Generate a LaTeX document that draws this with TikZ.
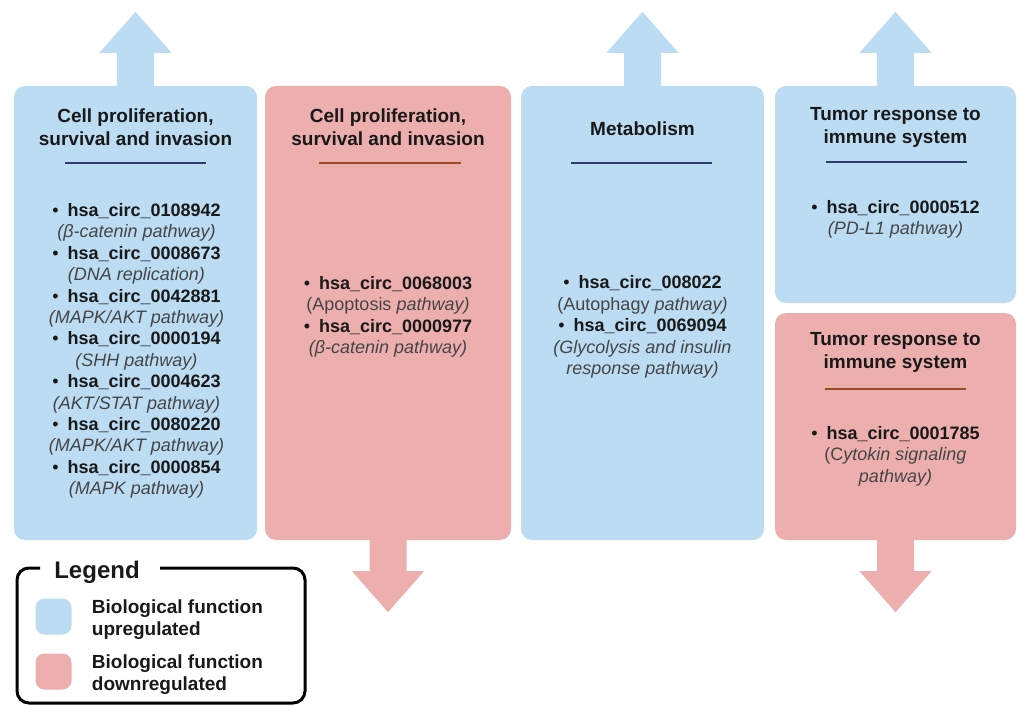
\documentclass[tikz,border=0pt]{standalone}
\usepackage{fontspec}
\setmainfont{Liberation Sans}
\usetikzlibrary{positioning}

\definecolor{upfill}{HTML}{BBDCF3}
\definecolor{downfill}{HTML}{EDAEAE}
\definecolor{uprule}{HTML}{2F3B6A}
\definecolor{downrule}{HTML}{9A4B24}
\definecolor{pathgray}{HTML}{454545}

\newcommand{\circitem}[1]{\textbullet\hspace{9pt}\textbf{#1}}
\newcommand{\pathw}[1]{{\color{pathgray}\itshape #1}}
\newcommand{\pathu}[1]{{\color{pathgray}#1}}

\begin{document}
\begin{tikzpicture}[x=1pt, y=-1pt,
  panel/.style={rounded corners=11pt, minimum width=243pt, inner sep=0pt},
  uppanel/.style={panel, fill=upfill},
  downpanel/.style={panel, fill=downfill},
  title/.style={font=\fontsize{19}{23}\selectfont\bfseries, align=center, text=black!90},
  items/.style={font=\fontsize{18}{21.4}\selectfont, align=center, text=black!90},
  uprule/.style={draw=uprule, line width=2pt},
  downrule/.style={draw=downrule, line width=2pt},
  swatch/.style={minimum size=36pt, inner sep=0pt, rounded corners=9pt},
  legtext/.style={font=\fontsize{19}{22}\selectfont\bfseries, align=left, inner sep=0pt, text=black!90},
  uparr/.pic={\fill[upfill] (-18.5,2) -- (-18.5,-33) -- (-36,-33) -- (0,-74)
    -- (36,-33) -- (18.5,-33) -- (18.5,2) -- cycle;},
  downarr/.pic={\fill[downfill] (-18.5,-2) -- (-18.5,31) -- (-36,31) -- (0,72)
    -- (36,31) -- (18.5,31) -- (18.5,-2) -- cycle;}
]
\useasboundingbox (0,0) rectangle (1017,706);

% panels
\node[uppanel, minimum height=454pt] (p1) at (135.5,313) {};
\node[downpanel, minimum width=246pt, minimum height=454pt] (p2) at (388,313) {};
\node[uppanel, minimum height=454pt] (p3) at (642.5,313) {};
\node[uppanel, minimum width=241pt, minimum height=217pt] (p4) at (895.5,194.5) {};
\node[downpanel, minimum width=241pt, minimum height=227pt] (p5) at (895.5,426.5) {};

% block arrows
\pic at (p1.north) {uparr};
\pic at (p3.north) {uparr};
\pic at (p4.north) {uparr};
\pic at (p2.south) {downarr};
\pic at (p5.south) {downarr};

% titles
\node[title] (t1) at (135.5,127) {Cell proliferation,\\survival and invasion};
\node[title] (t2) at (388,127) {Cell proliferation,\\survival and invasion};
\node[title] (t3) at (642.5,129) {Metabolism};
\node[title] (t4) at (895.5,127) {Tumor response to\\immune system};
\node[title] (t5) at (895.5,352) {Tumor response to\\immune system};

\draw[uprule] (65,163) -- (206,163);
\draw[downrule] (319,163) -- (461,163);
\draw[uprule] (571,163) -- (712,163);
\draw[uprule] (826,162) -- (967,162);
\draw[downrule] (825,389) -- (966,389);

% circRNA lists
\node[items] (l1) at (136.5,351) {\circitem{hsa\_circ\_0108942}\\ \pathw{(β-catenin pathway)}\\
  \circitem{hsa\_circ\_0008673}\\ \pathw{(DNA replication)}\\
  \circitem{hsa\_circ\_0042881}\\ \pathw{(MAPK/AKT pathway)}\\
  \circitem{hsa\_circ\_0000194}\\ \pathw{(SHH pathway)}\\
  \circitem{hsa\_circ\_0004623}\\ \pathw{(AKT/STAT pathway)}\\
  \circitem{hsa\_circ\_0080220}\\ \pathw{(MAPK/AKT pathway)}\\
  \circitem{hsa\_circ\_0000854}\\ \pathw{(MAPK pathway)}};
\node[items] (l2) at (388,317) {\circitem{hsa\_circ\_0068003}\\ \pathu{(Apoptosis} \pathw{pathway)}\\
  \circitem{hsa\_circ\_0000977}\\ \pathw{(β-catenin pathway)}};
\node[items] (l3) at (642.5,327) {\circitem{hsa\_circ\_008022}\\ \pathu{(Autophagy} \pathw{pathway)}\\
  \circitem{hsa\_circ\_0069094}\\ \pathw{(Glycolysis and insulin}\\ \pathw{response pathway)}};
\node[items] (l4) at (895.5,219.5) {\circitem{hsa\_circ\_0000512}\\ \pathw{(PD-L1 pathway)}};
\node[items] (l5) at (895.5,456) {\circitem{hsa\_circ\_0001785}\\ \pathu{(C}\pathw{ytokin signaling}\\ \pathw{pathway)}};

% legend
\draw[line width=3pt, rounded corners=12pt] (40,568) -- (17,568) -- (17,703) -- (305,703) -- (305,568) -- (160,568);
\node[font=\fontsize{24}{28}\selectfont\bfseries, text=black!90] (leg) at (97,572) {Legend};
\node[swatch, fill=upfill] (s1) at (53.5,616.5) {};
\node[swatch, fill=downfill] (s2) at (53.5,671.5) {};
\node[legtext, anchor=west, right=20pt of s1, yshift=-3pt] (lg1) {Biological function\\upregulated};
\node[legtext, anchor=west, right=20pt of s2, yshift=-3pt] (lg2) {Biological function\\downregulated};
\end{tikzpicture}
\end{document}
